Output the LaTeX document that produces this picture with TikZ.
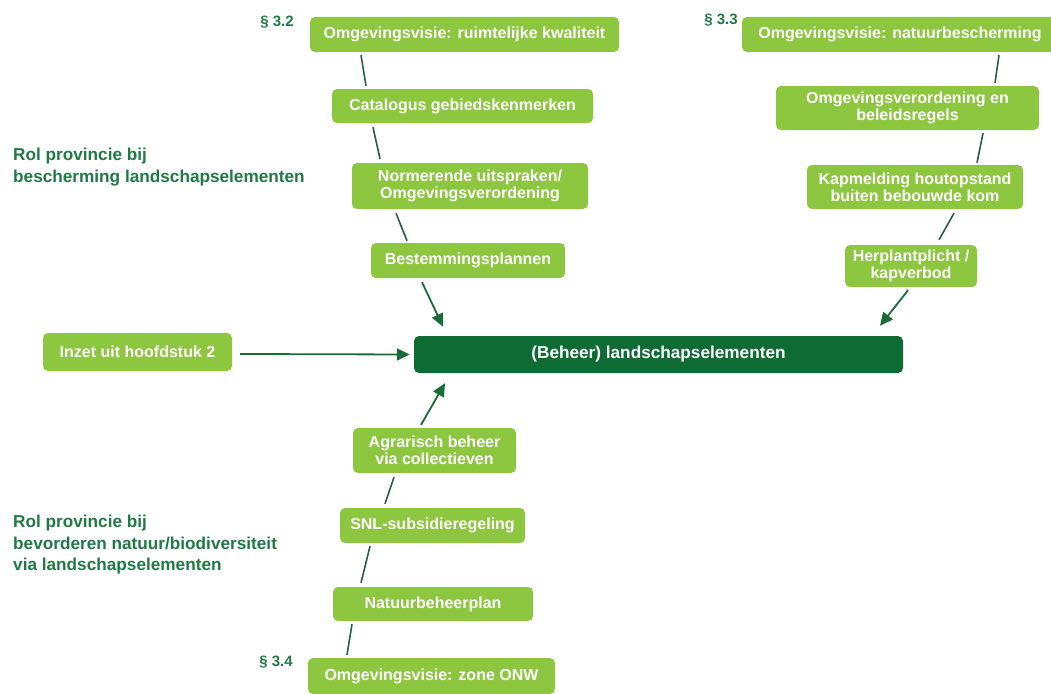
\documentclass[tikz,border=0pt]{standalone}
\usepackage{fontspec}
\setmainfont{Liberation Sans}
\usetikzlibrary{arrows.meta}
\definecolor{lgreen}{HTML}{8DC63F}
\definecolor{dgreen}{HTML}{0E6B33}
\definecolor{tgreen}{HTML}{217A45}
\definecolor{lcol}{HTML}{2A5E45}
\definecolor{acol}{HTML}{1A6B3A}
\tikzset{
  box/.style={rounded corners=5pt, fill=lgreen, text=white, align=center, inner sep=0pt,
    font=\fontsize{16}{17}\selectfont\bfseries},
  mainbox/.style={box, fill=dgreen, font=\fontsize{17.2}{19}\selectfont\bfseries},
  lbl/.style={text=tgreen, align=left, inner sep=0pt, font=\fontsize{17.2}{21.5}\selectfont\bfseries},
  sec/.style={text=tgreen, inner sep=0pt, font=\fontsize{15}{17}\selectfont\bfseries},
  link/.style={draw=lcol, line width=1.6pt},
  arr/.style={draw=acol, line width=1.8pt, -{Triangle[length=13pt,width=12pt]}}
}
\begin{document}
\begin{tikzpicture}[x=1pt,y=-1pt]
\useasboundingbox[fill=white] (0,0) rectangle (1051,693);
% top-left chain
\node[box, minimum width=309pt, minimum height=35pt] (A1) at (464.5,34.5) {Omgevingsvisie: ruimtelijke kwaliteit};
\node[box, minimum width=261pt, minimum height=34pt] (A2) at (462.5,106) {Catalogus gebiedskenmerken};
\node[box, minimum width=236pt, minimum height=46pt] (A3) at (470,186) {Normerende uitspraken/\\Omgevingsverordening};
\node[box, minimum width=194pt, minimum height=35pt] (A4) at (468,260.5) {Bestemmingsplannen};
% top-right chain
\node[box, minimum width=316pt, minimum height=35pt] (B1) at (900,34.5) {Omgevingsvisie: natuurbescherming};
\node[box, minimum width=263pt, minimum height=44pt] (B2) at (907.5,108) {Omgevingsverordening en\\beleidsregels};
\node[box, minimum width=216pt, minimum height=44pt] (B3) at (915,187) {Kapmelding houtopstand\\buiten bebouwde kom};
\node[box, minimum width=132pt, minimum height=42pt] (B4) at (911,266) {Herplantplicht /\\kapverbod};
% middle
\node[mainbox, minimum width=489pt, minimum height=37pt] (M) at (658.5,354.5) {(Beheer) landschapselementen};
\node[box, minimum width=189pt, minimum height=38pt] (I) at (137.5,352) {Inzet uit hoofdstuk 2};
% bottom chain
\node[box, minimum width=163pt, minimum height=45pt] (C1) at (434.5,450.5) {Agrarisch beheer\\via collectieven};
\node[box, minimum width=185pt, minimum height=35pt] (C2) at (432.5,525.5) {SNL-subsidieregeling};
\node[box, minimum width=200pt, minimum height=34pt] (C3) at (433,604) {Natuurbeheerplan};
\node[box, minimum width=247pt, minimum height=36pt] (C4) at (431.5,676) {Omgevingsvisie: zone ONW};
% labels
\node[sec] (S2) at (277,22) {§ 3.2};
\node[sec] (S3) at (721,20) {§ 3.3};
\node[sec] (S4) at (276,662) {§ 3.4};
\node[lbl, anchor=west] (R1) at (13,167) {Rol provincie bij\\bescherming landschapselementen};
\node[lbl, anchor=west] (R2) at (13,545) {Rol provincie bij\\bevorderen natuur/biodiversiteit\\via landschapselementen};
% connectors top-left
\draw[link] ([shift={(-103.5,3)}]A1.south) -- ([shift={(-96.5,-3)}]A2.north);
\draw[link] ([shift={(-89.5,4)}]A2.south) -- ([shift={(-90,-4)}]A3.north);
\draw[link] ([shift={(-74,4)}]A3.south) -- ([shift={(-61,-2)}]A4.north);
\draw[arr] ([shift={(-46,4)}]A4.south) -- ([shift={(-215.5,-9)}]M.north);
% connectors top-right
\draw[link] ([shift={(99,3)}]B1.south) -- ([shift={(87.5,-3)}]B2.north);
\draw[link] ([shift={(75.5,3)}]B2.south) -- ([shift={(62,-2)}]B3.north);
\draw[link] ([shift={(39,4)}]B3.south) -- ([shift={(28,-5)}]B4.north);
\draw[arr] ([shift={(-3,3)}]B4.south) -- ([shift={(221.5,-10)}]M.north);
% connectors bottom
\draw[link] ([shift={(-84.5,-3)}]C4.north) -- ([shift={(-81,3)}]C3.south);
\draw[link] ([shift={(-72,-4)}]C3.north) -- ([shift={(-62.5,3)}]C2.south);
\draw[link] ([shift={(-47.5,-4)}]C2.north) -- ([shift={(-40.5,4)}]C1.south);
\draw[arr] ([shift={(-13.5,-3)}]C1.north) -- ([shift={(-213.5,10)}]M.south);
% left arrow
\draw[arr] ([shift={(8,2)}]I.east) -- ([shift={(-4,0)}]M.west);
\end{tikzpicture}
\end{document}
